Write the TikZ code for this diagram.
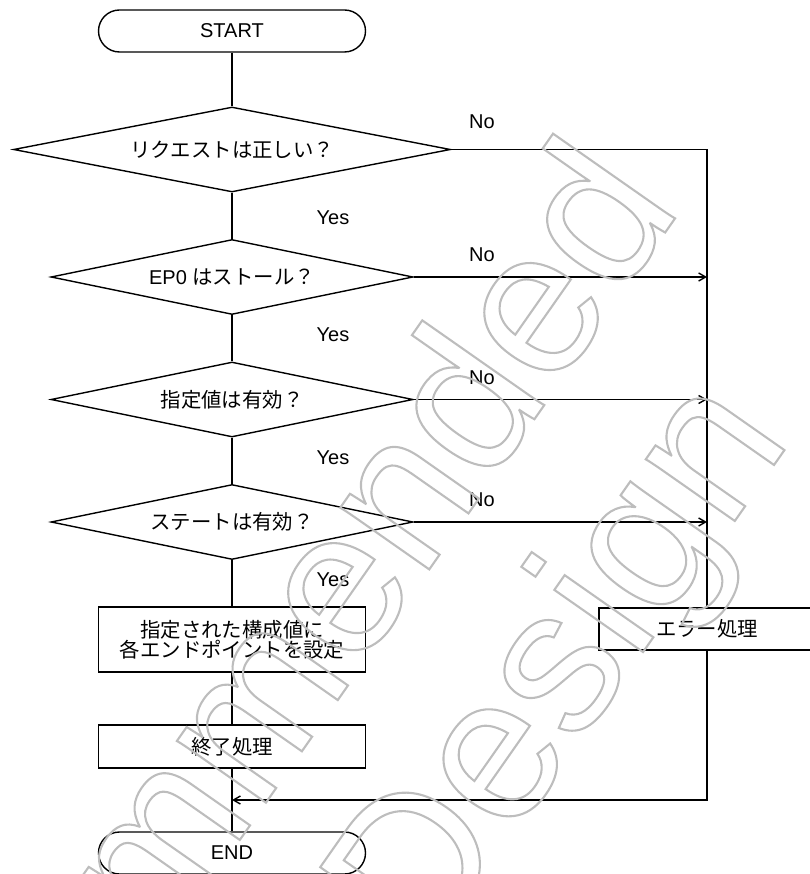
\documentclass[tikz,border=0pt]{standalone}
\usepackage{fontspec}
\setmainfont{Liberation Sans}
\newfontfamily\jpfont{Noto Sans CJK JP}[Scale=1.02]
\usetikzlibrary{shapes.geometric,arrows.meta}
\definecolor{wmgray}{gray}{0.74}
\tikzset{
	flowline/.style={line width=1.4pt},
	termbox/.style={
		draw, flowline, rounded corners=21pt, inner sep=0pt,
		minimum width=267pt, minimum height=42pt
	},
	procbox/.style={
		draw, flowline, inner sep=0pt, align=center,
		minimum width=267pt, minimum height=43pt
	},
	ask/.style={draw, flowline, diamond, inner sep=0pt, aspect=4.9,
		minimum width=362pt, minimum height=75pt},
	answer/.style={inner sep=0pt},
	watermark/.style={text=wmgray, inner sep=0pt, rotate=55,
		font={\fontsize{205}{230}\selectfont}},
	>={Straight Barb[length=7pt,width=8pt]},
}
% outline-only text
\newcommand\hollowtext[1]{\special{pdf:literal direct 1 Tr 2.1 w}#1\special{pdf:literal direct 0 Tr}}

\begin{document}
\begin{tikzpicture}[x=1pt, y=-1pt,
every node/.style={font={\fontsize{20}{20}\selectfont}}
]
\useasboundingbox (0,0) rectangle (809,874);

\node [termbox] (start) at (232,31) {START};
\node [ask, aspect=5.1, minimum width=437pt, minimum height=85pt] (q1) at (232,149.5) {\jpfont リクエストは正しい？};
\node [ask] (q2) at (232,277) {EP0 {\jpfont はストール？}};
\node [ask] (q3) at (232,399.5) {\jpfont 指定値は有効？};
\node [ask] (q4) at (232,522) {\jpfont ステートは有効？};
\node [procbox, minimum height=65pt] (setep) at (232,639.5) {\jpfont 指定された構成値に\\\jpfont 各エンドポイントを設定};
\node [procbox] (fin) at (232,746.5) {\jpfont 終了処理};
\node [termbox] (end) at (232,853) {END};
\node [procbox, minimum width=216pt, minimum height=42pt] (err) at (707,629) {\jpfont エラー処理};
\coordinate (merge) at (232,800);

% Yes / No
\node [answer] (yes1) at (333,218) {Yes};
\node [answer] (yes2) at (333,335) {Yes};
\node [answer] (yes3) at (333,458) {Yes};
\node [answer] (yes4) at (333,580) {Yes};
\node [answer] (no1) at (482,122) {No};
\node [answer] (no2) at (482,255) {No};
\node [answer] (no3) at (482,378) {No};
\node [answer] (no4) at (482,500) {No};

\path [flowline] (start) edge (q1) (q1) edge (q2) (q2) edge (q3)
(q3) edge (q4) (q4) edge (setep) (setep) edge (fin) (fin) edge (end);
\draw [flowline] (q1.east) -| (err.north);
\draw [flowline, ->] (q2.east) -- (q2.east -| err.north);
\draw [flowline, ->] (q3.east) -- (q3.east -| err.north);
\draw [flowline, ->] (q4.east) -- (q4.east -| err.north);
\draw [flowline, ->] (err.south) |- (merge);

% watermark
\node [watermark, anchor=base east] (wm1) at (683,207) {\hollowtext{Not Recommended}};
\node [watermark, anchor=base west] (wm2) at (426,962) {\hollowtext{Design}};
\end{tikzpicture}
\end{document}
